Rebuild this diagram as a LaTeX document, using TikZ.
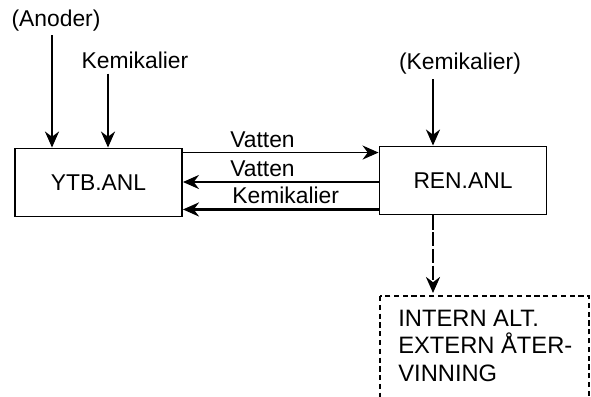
\documentclass[tikz,border=0pt]{standalone}
\usepackage{fontspec}
\setmainfont{Liberation Sans}
\usetikzlibrary{arrows.meta,positioning}
\tikzset{
  >={Stealth[length=3.2mm,width=2.8mm]},
  anl/.style={draw,line width=1.1pt,minimum width=3.34cm,minimum height=1.36cm,
    font=\fontsize{13}{15}\selectfont},
  lbl/.style={font=\fontsize{13}{15}\selectfont,inner sep=0pt},
  flow/.style={->,line width=1.4pt},
  outbox/.style={align=left,inner xsep=0.36cm,inner ysep=0.28cm,
    font=\fontsize{13.5}{15.5}\selectfont},
  dashbox/.style={line width=0.8pt,dash pattern=on 3pt off 2pt},
}
\begin{document}
\begin{tikzpicture}[x=0.02cm,y=-0.02cm]
  \useasboundingbox (0,0) rectangle (591,396);
  \clip (0,0) rectangle (591,396);
  % boxes
  \node[anl] (ytb) at (98.5,182.5) {YTB.ANL};
  \node[anl] (ren) at (463,180.5) {REN.ANL};
  \node[outbox,anchor=north west] (out) at (380,296) {INTERN ALT.\\EXTERN ÅTER-\\VINNING};
  \coordinate (outcorner) at (589,404);
  \draw[dashbox] (out.north west) rectangle (outcorner);
  % inputs from above
  \node[lbl,anchor=base] (anoder) at (56,26) {(Anoder)};
  \node[lbl,anchor=base] (kemA) at (135,68) {Kemikalier};
  \node[lbl,anchor=base] (kemB) at (460,69) {(Kemikalier)};
  \draw[flow] ([xshift=-0.08cm,yshift=-0.08cm]anoder.south) -- ([xshift=-0.08cm]anoder.south |- ytb.north);
  \draw[flow] ([xshift=-0.54cm,yshift=-0.1cm]kemA.south) -- ([xshift=-0.54cm]kemA.south |- ytb.north);
  \draw[flow] ([xshift=-0.54cm,yshift=-0.1cm]kemB.south) -- ([xshift=-0.54cm]kemB.south |- ren.north);
  % between the plants
  \node[lbl,anchor=base west] (vat1) at (230,147) {Vatten};
  \node[lbl,anchor=base west] (vat2) at (230,176) {Vatten};
  \node[lbl,anchor=base west] (kemC) at (232,203) {Kemikalier};
  \draw[flow,line width=0.8pt] ([yshift=-0.1cm]ytb.north east) -- ([yshift=-0.1cm]ytb.north east -| ren.west);
  \draw[flow] ([yshift=-0.03cm]ren.west) -- ([yshift=-0.03cm]ren.west -| ytb.east);
  \draw[flow] ([yshift=0.12cm]ren.south west) -- ([yshift=0.12cm]ren.south west -| ytb.east);
  % to recycling
  \draw[flow,dash pattern=on 8pt off 1.5pt] ([xshift=-0.6cm]ren.south) -- ([xshift=-0.6cm,yshift=0.06cm]ren.south |- out.north);
\end{tikzpicture}
\end{document}
